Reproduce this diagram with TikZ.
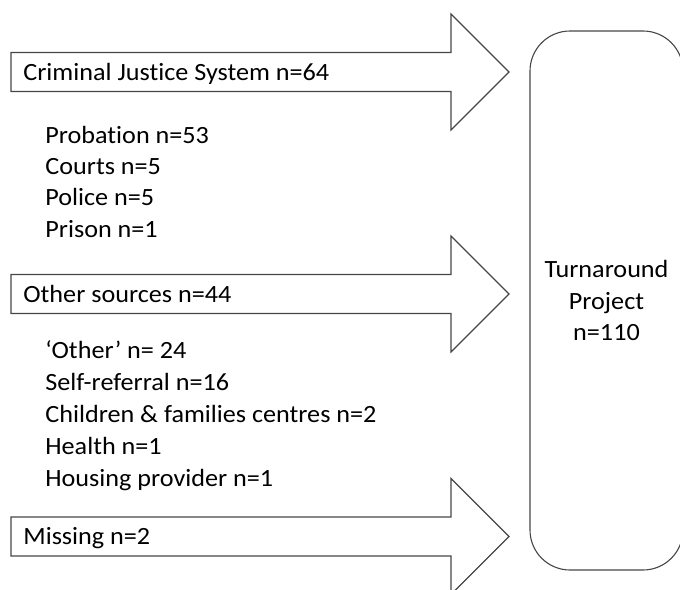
\documentclass[tikz,border=0pt]{standalone}
\usepackage{fontspec}
\setmainfont{Carlito}[FakeStretch=1.055, Ligatures=NoCommon]
\usetikzlibrary{positioning}
\definecolor{edgegray}{RGB}{70,70,70}
\tikzset{
  arrline/.style={draw=edgegray, line width=0.55pt, line join=miter},
  srclab/.style={anchor=base west, inner sep=0pt, font=\fontsize{12.4}{15.7}\selectfont},
  item/.style={anchor=base west, inner sep=0pt, font=\fontsize{12.4}{15.7}\selectfont},
  projbox/.style={draw=edgegray, line width=0.55pt, rounded corners=20pt,
                  minimum width=76.5pt, minimum height=269.5pt, align=center,
                  inner sep=0pt, font=\fontsize{12.4}{15.75}\selectfont},
}
% block arrow: #1 = centre line (px from top)
\newcommand{\blockarr}[1]{%
  \draw[arrline] (11,{#1-19.5}) -- (451,{#1-19.5}) -- (451,{#1-58}) -- (509,#1)
    -- (451,{#1+58}) -- (451,{#1+19.5}) -- (11,{#1+19.5}) -- cycle;}

\begin{document}
\begin{tikzpicture}[x=0.5pt, y=-0.5pt]
    \useasboundingbox (0,0) rectangle (680,589);
    \clip (0,0) rectangle (680,589);
    % arrows
    \blockarr{72}
    \blockarr{294}
    \blockarr{536.5}
    \node[srclab] (cjs) at (23,80) {Criminal Justice System n=64};
    \node[srclab] (oth) at (23,302) {Other sources n=44};
    \node[srclab] (miss) at (23,544.5) {Missing n=2};
    % breakdowns
    \foreach \txt [count=\k] in {Probation n=53, Courts n=5, Police n=5, Prison n=1}
      \node[item] (cjs\k) at (45,{143+31.4*(\k-1)}) {\txt};
    \foreach \txt [count=\k] in {‘Other’ n= 24, Self-referral n=16,
        Children \& families centres n=2, Health n=1, Housing provider n=1}
      \node[item] (oth\k) at (45,{358+32*(\k-1)}) {\txt};
    % target
    \node[projbox] (project) at (606.5,300.5) {Turnaround\\Project\\n=110};
  \end{tikzpicture}
\end{document}
